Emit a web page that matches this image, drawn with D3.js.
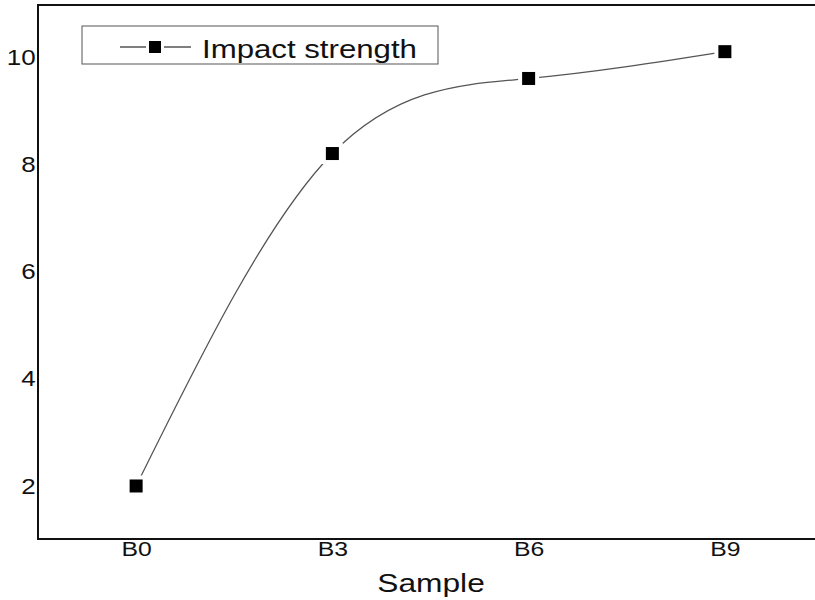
<!DOCTYPE html>
<html><head><meta charset="utf-8">
<script src="https://cdn.jsdelivr.net/npm/d3@7"></script>
<style>body{margin:0;background:#fff}svg{display:block}</style>
</head><body>
<script>
const categories = ["B0","B3","B6","B9"];
const impactStrength = [2.0, 8.2, 9.6, 10.1];
const yTicks = [2,4,6,8,10];
const seriesName = "Impact strength";
const xTitle = "Sample";

const W = 815, H = 600;
const pLeft = 38, pRight = 823, pTop = 5, pBottom = 539;
const svg = d3.select("body").append("svg").attr("width", W).attr("height", H);
const font = "'Liberation Sans', Arial, sans-serif";
const sx = 1.18;

const x = d3.scalePoint().domain(categories).range([pLeft, pRight]).padding(0.5);
const y = d3.scaleLinear().domain([1, 11]).range([pBottom + 0.6, pTop - 1.6]);

// frame
svg.append("rect").attr("x", pLeft).attr("y", pTop).attr("width", pRight-pLeft).attr("height", pBottom-pTop)
  .attr("fill","none").attr("stroke","#111").attr("stroke-width",2);

// y axis
const ya = svg.append("g").attr("transform",`translate(${pLeft},0)`)
  .call(d3.axisLeft(y).tickValues(yTicks).tickSize(0).tickPadding(2).tickFormat(d3.format("d")));
ya.select(".domain").remove();
ya.selectAll("text").attr("font-family",font).attr("font-size",22).attr("fill","#111")
  .attr("transform",`scale(${sx},1)`);

// x axis
const xa = svg.append("g").attr("transform",`translate(0,${pBottom})`)
  .call(d3.axisBottom(x).tickSize(0).tickPadding(2));
xa.select(".domain").remove();
xa.selectAll("text").attr("font-family",font).attr("font-size",21).attr("fill","#111")
  .attr("transform",`scale(${sx},1)`);

svg.append("text").attr("transform", `translate(431,592) scale(1.22,1)`).attr("text-anchor","middle")
  .attr("font-family",font).attr("font-size",26).attr("fill","#111").text(xTitle);

// curve
const data = categories.map((c,i)=>({c, v: impactStrength[i]}));
const line = d3.line().x(d=>x(d.c)).y(d=>y(d.v)).curve(d3.curveNatural);
svg.append("path").datum(data).attr("d", line).attr("fill","none")
  .attr("stroke","#555").attr("stroke-width",1.3);

const ms = 13;
svg.selectAll("rect.m").data(data).join("rect").attr("class","m")
  .attr("x", d=>x(d.c)-ms/2).attr("y", d=>y(d.v)-ms/2).attr("width",ms).attr("height",ms)
  .attr("fill","#000").attr("stroke","#fff").attr("stroke-width",8).style("paint-order","stroke");

// legend
const lg = svg.append("g");
lg.append("rect").attr("x",82).attr("y",26).attr("width",356).attr("height",38)
  .attr("fill","#fff").attr("stroke","#555").attr("stroke-width",1);
lg.append("line").attr("x1",120).attr("x2",191).attr("y1",47).attr("y2",47)
  .attr("stroke","#555").attr("stroke-width",1.3);
lg.append("rect").attr("x",155-6).attr("y",47-6).attr("width",12).attr("height",12)
  .attr("fill","#000").attr("stroke","#fff").attr("stroke-width",6).style("paint-order","stroke");
lg.append("text").attr("transform","translate(202,58) scale(1.2,1)").attr("font-family",font).attr("font-size",26)
  .attr("fill","#111").text(seriesName);
</script>
</body></html>
